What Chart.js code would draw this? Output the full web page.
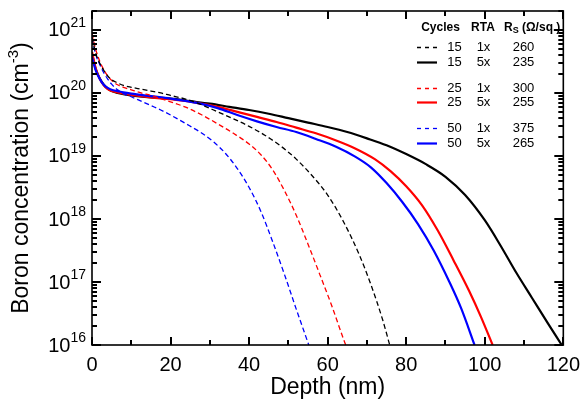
<!DOCTYPE html>
<html>
<head>
<meta charset="utf-8">
<script src="https://cdn.jsdelivr.net/npm/chart.js@4.4.0/dist/chart.umd.min.js"></script>
<style>
  html, body { margin: 0; padding: 0; background: #fff; }
  #wrap { width: 588px; height: 403px; }
</style>
</head>
<body>
<div id="wrap"><canvas id="boron-chart" width="588" height="403"></canvas></div>
<script>
// depth (nm) and log10 of boron concentration (cm^-3)
// 15 cycles
const depth15x1 = [0, 1, 2, 3, 4, 5, 6.5, 8, 10, 12.5, 15, 17.5, 20, 24, 28, 32, 36, 40, 44, 48, 52, 56, 60, 64, 68, 71, 74, 75.8];
const logC15x1 = [20.88, 20.62, 20.47, 20.36, 20.27, 20.21, 20.16, 20.12, 20.09, 20.06, 20.03, 20.0, 19.96, 19.9, 19.81, 19.7, 19.59, 19.47, 19.33, 19.16, 18.95, 18.69, 18.38, 17.96, 17.44, 16.96, 16.4, 16.0];
const depth15x5 = [0, 1, 2, 3, 4, 5, 6.5, 8, 10, 15, 20, 25, 30, 35, 40, 45, 50, 55, 60, 65, 70, 75, 80, 85, 90, 95, 100, 104, 108, 112, 116, 119.6];
const logC15x5 = [20.62, 20.37, 20.23, 20.13, 20.07, 20.03, 20.0, 19.98, 19.96, 19.93, 19.91, 19.87, 19.83, 19.78, 19.73, 19.67, 19.6, 19.53, 19.46, 19.38, 19.28, 19.17, 19.03, 18.87, 18.67, 18.38, 17.98, 17.58, 17.15, 16.75, 16.35, 16.0];
// 25 cycles
const depth25x1 = [0, 1, 2, 3, 4, 5, 6.5, 8, 10, 12.5, 15, 17.5, 20, 24, 28, 32, 36, 40, 43, 46, 49, 52, 55, 58, 61, 64, 64.6];
const logC25x1 = [20.94, 20.68, 20.5, 20.37, 20.27, 20.2, 20.13, 20.09, 20.05, 20.0, 19.96, 19.91, 19.86, 19.77, 19.65, 19.51, 19.36, 19.19, 19.02, 18.78, 18.45, 18.06, 17.6, 17.12, 16.63, 16.1, 16.0];
const depth25x5 = [0, 1, 2, 3, 4, 5, 6.5, 8, 10, 15, 20, 27, 32, 37, 42, 47, 52, 57, 62, 67, 72, 76, 80, 84, 88, 92, 96, 99, 102];
const logC25x5 = [20.65, 20.38, 20.22, 20.12, 20.06, 20.03, 20.01, 19.99, 19.97, 19.93, 19.9, 19.84, 19.78, 19.7, 19.62, 19.54, 19.45, 19.36, 19.25, 19.12, 18.95, 18.76, 18.52, 18.22, 17.82, 17.35, 16.86, 16.45, 16.0];
// 50 cycles
const depth50x1 = [0, 1, 2, 3, 4, 5, 6.5, 8, 10, 12.5, 15, 17.5, 20, 24, 28, 31, 34, 37, 40, 43, 46, 49, 52, 55.2];
const logC50x1 = [20.86, 20.6, 20.45, 20.32, 20.22, 20.14, 20.05, 19.99, 19.94, 19.87, 19.8, 19.73, 19.65, 19.51, 19.36, 19.22, 19.04, 18.8, 18.5, 18.12, 17.64, 17.12, 16.57, 16.0];
const depth50x5 = [0, 1, 2, 3, 4, 5, 6.5, 8, 10, 15, 20, 27, 32, 37, 42, 47, 52, 57, 62, 67, 71, 75, 79, 83, 87, 91, 94, 97.4];
const logC50x5 = [20.57, 20.35, 20.22, 20.13, 20.08, 20.05, 20.03, 20.01, 19.99, 19.95, 19.91, 19.84, 19.76, 19.65, 19.55, 19.46, 19.38, 19.27, 19.15, 18.99, 18.82, 18.57, 18.27, 17.92, 17.5, 17.0, 16.58, 16.0];

// legend table
const cycles = ['15', '15', '25', '25', '50', '50'];
const rta = ['1x', '5x', '1x', '5x', '1x', '5x'];
const sheetRes = ['260', '235', '300', '255', '375', '265'];

const xTicks = [0, 20, 40, 60, 80, 100, 120];
const xMinorTicks = [10, 30, 50, 70, 90, 110];
const yDecades = [16, 17, 18, 19, 20, 21];

const FONT = "'Liberation Sans', Arial, sans-serif";

function toPoints(depth, logC) {
  return depth.map((x, i) => ({ x: x, y: Math.pow(10, logC[i]) }));
}

function makeSet(label, depth, logC, color, dashed) {
  return {
    label: label,
    data: toPoints(depth, logC),
    borderColor: color,
    borderWidth: dashed ? 1.3 : 2.2,
    borderDash: dashed ? [5, 3] : [],
    cubicInterpolationMode: 'monotone',
    pointRadius: 0,
    fill: false,
  };
}

const datasets = [
  makeSet('15 1x', depth15x1, logC15x1, '#000000', true),
  makeSet('25 1x', depth25x1, logC25x1, '#ff0000', true),
  makeSet('50 1x', depth50x1, logC50x1, '#0000ff', true),
  makeSet('50 5x', depth50x5, logC50x5, '#0000ff', false),
  makeSet('25 5x', depth25x5, logC25x5, '#ff0000', false),
  makeSet('15 5x', depth15x5, logC15x5, '#000000', false),
];
const legendStyle = [
  ['#000000', true], ['#000000', false],
  ['#ff0000', true], ['#ff0000', false],
  ['#0000ff', true], ['#0000ff', false],
];
const legendRowY = [47, 62, 88, 102, 128, 143];

// inward tick marks on all four sides
function drawTicks(chart) {
  const ctx = chart.ctx;
  const a = chart.chartArea;
  const xs = chart.scales.x;
  const ys = chart.scales.y;
  ctx.save();
  ctx.fillStyle = '#000000';
  xTicks.concat(xMinorTicks).forEach(v => {
    const px = Math.round(xs.getPixelForValue(v));
    const len = xTicks.includes(v) ? 8 : 5;
    ctx.fillRect(px - 1, a.bottom - len, 2, len);
    ctx.fillRect(px - 1, a.top, 2, len);
  });
  yDecades.forEach(d => {
    for (let k = 1; k <= 9; k++) {
      const val = k * Math.pow(10, d);
      if (val > 2e21 * 1.0001) break;
      const py = Math.round(ys.getPixelForValue(val));
      const len = k === 1 ? 9 : 5;
      ctx.fillRect(a.left, py - 1, len, 2);
      ctx.fillRect(a.right - len, py - 1, len, 2);
    }
  });
  ctx.restore();
}

// frame, superscript labels, titles and legend table
const framePlugin = {
  id: 'frame',
  afterDraw(chart) {
    const ctx = chart.ctx;
    const a = chart.chartArea;
    const ys = chart.scales.y;
    drawTicks(chart);
    ctx.save();
    ctx.setLineDash([]);
    ctx.strokeStyle = '#000';
    ctx.fillStyle = '#000';
    ctx.lineWidth = 1.6;
    ctx.strokeRect(a.left, a.top, a.right - a.left, a.bottom - a.top);

    // y tick labels 10^n
    ctx.textBaseline = 'middle';
    yDecades.forEach(d => {
      const py = ys.getPixelForValue(Math.pow(10, d));
      const exp = String(d);
      ctx.font = '14px ' + FONT;
      const ew = ctx.measureText(exp).width;
      const right = 86;
      ctx.textAlign = 'left';
      ctx.fillText(exp, right - ew, py - 7);
      ctx.font = '20px ' + FONT;
      ctx.textAlign = 'right';
      ctx.fillText('10', right - ew, py + 1);
    });

    // x title
    ctx.font = '23px ' + FONT;
    ctx.textAlign = 'center';
    ctx.textBaseline = 'middle';
    ctx.fillText('Depth (nm)', (a.left + a.right) / 2, 388);

    // y title with superscript
    ctx.save();
    ctx.translate(22, (a.top + a.bottom) / 2);
    ctx.rotate(-Math.PI / 2);
    const p1 = 'Boron concentration (cm';
    const p2 = '-3';
    const p3 = ')';
    ctx.font = '23px ' + FONT;
    const w1 = ctx.measureText(p1).width;
    const w3 = ctx.measureText(p3).width;
    ctx.font = '15px ' + FONT;
    const w2 = ctx.measureText(p2).width;
    const sx = -(w1 + w2 + w3) / 2;
    ctx.textAlign = 'left';
    ctx.textBaseline = 'middle';
    ctx.font = '23px ' + FONT;
    ctx.fillText(p1, sx, 0);
    ctx.font = '15px ' + FONT;
    ctx.fillText(p2, sx + w1, -8);
    ctx.font = '23px ' + FONT;
    ctx.fillText(p3, sx + w1 + w2, 0);
    ctx.restore();

    // legend table
    ctx.textBaseline = 'middle';
    ctx.font = 'bold 12px ' + FONT;
    ctx.textAlign = 'center';
    ctx.fillText('Cycles', 440.5, 28);
    ctx.fillText('RTA', 483, 28);
    ctx.textAlign = 'left';
    ctx.fillText('R', 504, 28);
    const rw = ctx.measureText('R').width;
    ctx.font = 'bold 9px ' + FONT;
    ctx.fillText('S', 504 + rw, 31);
    const sw = ctx.measureText('S').width;
    ctx.font = 'bold 12px ' + FONT;
    ctx.fillText(' (\u03A9/sq.)', 504 + rw + sw, 28);

    ctx.font = '13px ' + FONT;
    for (let i = 0; i < cycles.length; i++) {
      const y = legendRowY[i];
      const [color, dashed] = legendStyle[i];
      ctx.beginPath();
      ctx.strokeStyle = color;
      ctx.lineWidth = dashed ? 1.3 : 2.2;
      ctx.setLineDash(dashed ? [4, 4] : []);
      ctx.moveTo(417, y + 0.5);
      ctx.lineTo(437, y + 0.5);
      ctx.stroke();
      ctx.setLineDash([]);
      ctx.fillStyle = '#000';
      ctx.textAlign = 'center';
      ctx.fillText(cycles[i], 454.5, y);
      ctx.fillText(rta[i], 483.5, y);
      ctx.fillText(sheetRes[i], 523.5, y);
    }
    ctx.restore();
  }
};

const ctx = document.getElementById('boron-chart').getContext('2d');
const boronChart = new Chart(ctx, {
  type: 'line',
  data: { datasets: datasets },
  options: {
    responsive: false,
    animation: false,
    devicePixelRatio: 1,
    layout: { padding: { left: 0, right: 19, top: 11, bottom: 0 } },
    plugins: { legend: { display: false }, tooltip: { enabled: false } },
    scales: {
      x: {
        type: 'linear',
        min: 0,
        max: 120,
        grid: { display: false, drawTicks: false },
        border: { display: false },
        ticks: {
          stepSize: 20,
          padding: 8,
          color: '#000',
          font: { family: FONT, size: 20 },
          callback: v => (xTicks.includes(v) ? String(v) : ''),
        },
        afterFit: s => { s.height = 58; },
      },
      y: {
        type: 'logarithmic',
        min: 1e16,
        max: 2e21,
        grid: { display: false, drawTicks: false },
        border: { display: false },
        ticks: { display: false },
        afterFit: s => { s.width = 92; },
      },
    },
  },
  plugins: [framePlugin],
});
</script>
</body>
</html>
